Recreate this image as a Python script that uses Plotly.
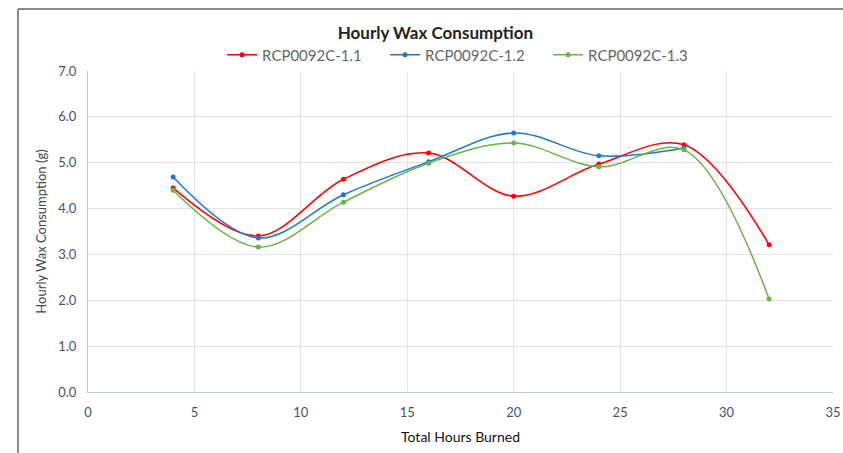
import plotly.graph_objects as go

hours = [4, 8, 12, 16, 20, 24, 28, 32]
series_names = ["RCP0092C-1.1", "RCP0092C-1.2", "RCP0092C-1.3"]
rcp_11 = [4.45, 3.40, 4.64, 5.21, 4.27, 4.97, 5.39, 3.21]
rcp_12 = [4.69, 3.36, 4.30, 5.02, 5.65, 5.15, 5.32, None]
rcp_13 = [4.40, 3.16, 4.14, 4.99, 5.43, 4.91, 5.28, 2.03]
colors = ["#ff0000", "#1f78d1", "#6ab345"]
y_ticks = [0, 1, 2, 3, 4, 5, 6, 7]
y_tick_labels = ["0.0", "1.0", "2.0", "3.0", "4.0", "5.0", "6.0", "7.0"]

fig = go.Figure()
for name, vals, c in zip(series_names, [rcp_11, rcp_12, rcp_13], colors):
    xs = [h for h, v in zip(hours, vals) if v is not None]
    ys = [v for v in vals if v is not None]
    fig.add_trace(go.Scatter(
        x=xs, y=ys, name=name, mode="lines+markers",
        line=dict(color=c, width=1.5, shape="spline", smoothing=1.0),
        marker=dict(color=c, size=5),
    ))

font_family = "Lato, 'Open Sans', sans-serif"
fig.update_layout(
    width=843, height=453,
    margin=dict(l=88, r=10, t=71, b=61, autoexpand=False),
    paper_bgcolor="white", plot_bgcolor="white",
    font=dict(family=font_family, color="#595959"),
    title=dict(text="<b>Hourly Wax Consumption</b>", x=0.5165, xanchor="center",
               y=0.927, yanchor="middle",
               font=dict(size=17, color="#222222", family=font_family)),
    legend=dict(orientation="h", x=0.18, xanchor="left", y=1.05, yanchor="middle",
                font=dict(size=15, color="#666666"), itemwidth=30,
                entrywidth=118, entrywidthmode="pixels",
                bgcolor="rgba(0,0,0,0)"),
    showlegend=True,
    xaxis=dict(range=[0, 35], tickvals=[0, 5, 10, 15, 20, 25, 30, 35],
               automargin=False,
               showgrid=True, gridcolor="#e0e2ec", gridwidth=1,
               showline=True, linecolor="#b8c8e0", linewidth=1,
               zeroline=False, ticks="", ticklabelstandoff=8,
               tickfont=dict(size=13, color="#44546a"),
               title=dict(text="Total Hours Burned", standoff=13,
                          font=dict(size=14, color="#111111"))),
    yaxis=dict(range=[0, 7], tickvals=y_ticks, ticktext=y_tick_labels,
               automargin=False,
               showgrid=True, gridcolor="#e0e2ec", gridwidth=1,
               showline=True, linecolor="#b8c8e0", linewidth=1,
               zeroline=False, ticks="", ticklabelstandoff=8,
               tickfont=dict(size=13, color="#44546a"),
               title=dict(text="Hourly Wax Consumption (g)", standoff=8,
                          font=dict(size=13, color="#444444"))),
    shapes=[
        dict(type="line", xref="paper", yref="paper", x0=-0.094, x1=1.02, y0=1.193, y1=1.193,
             line=dict(color="#8a8a8a", width=2)),
        dict(type="line", xref="paper", yref="paper", x0=-0.094, x1=-0.094, y0=1.193, y1=-0.2,
             line=dict(color="#8a8a8a", width=2)),
    ],
)

fig.write_html("out.html", config={"displayModeBar": False},
               post_script="document.body.style.margin='0';document.body.style.overflow='hidden';")
